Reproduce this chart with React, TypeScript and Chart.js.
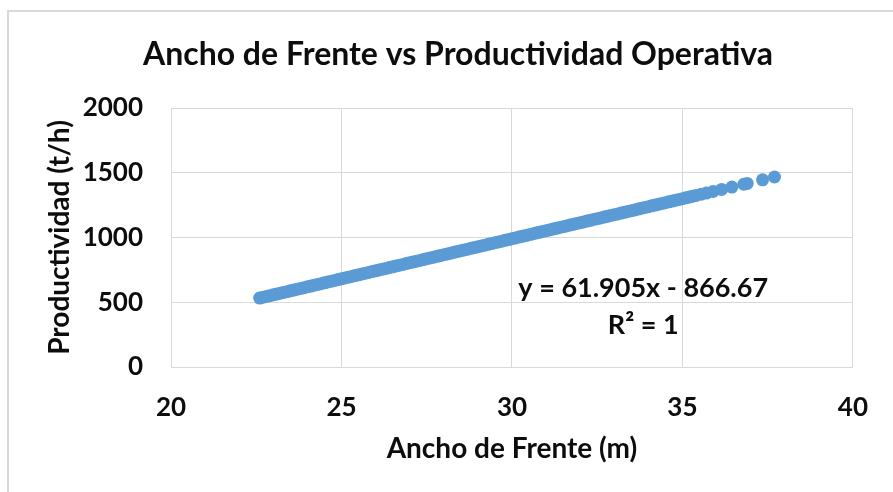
import React, { useEffect, useRef } from "react";
import { Chart, registerables } from "chart.js";

Chart.register(...registerables);

const chartTitle = "Ancho de Frente vs Productividad Operativa";
const xAxisTitle = "Ancho de Frente (m)";
const yAxisTitle = "Productividad (t/h)";
const equationText = "y = 61.905x - 866.67";
const r2Text = "R² = 1";

const xTicks = [20, 25, 30, 35, 40];
const yTicks = [0, 500, 1000, 1500, 2000];

const anchoFrente = [
  22.6, 22.7, 22.8, 22.9, 23.0, 23.1, 23.2, 23.3, 23.4, 23.5, 23.6, 23.7,
  23.8, 23.9, 24.0, 24.1, 24.2, 24.3, 24.4, 24.5, 24.6, 24.7, 24.8, 24.9,
  25.0, 25.1, 25.2, 25.3, 25.4, 25.5, 25.6, 25.7, 25.8, 25.9, 26.0, 26.1,
  26.2, 26.3, 26.4, 26.5, 26.6, 26.7, 26.8, 26.9, 27.0, 27.1, 27.2, 27.3,
  27.4, 27.5, 27.6, 27.7, 27.8, 27.9, 28.0, 28.1, 28.2, 28.3, 28.4, 28.5,
  28.6, 28.7, 28.8, 28.9, 29.0, 29.1, 29.2, 29.3, 29.4, 29.5, 29.6, 29.7,
  29.8, 29.9, 30.0, 30.1, 30.2, 30.3, 30.4, 30.5, 30.6, 30.7, 30.8, 30.9,
  31.0, 31.1, 31.2, 31.3, 31.4, 31.5, 31.6, 31.7, 31.8, 31.9, 32.0, 32.1,
  32.2, 32.3, 32.4, 32.5, 32.6, 32.7, 32.8, 32.9, 33.0, 33.1, 33.2, 33.3,
  33.4, 33.5, 33.6, 33.7, 33.8, 33.9, 34.0, 34.1, 34.2, 34.3, 34.4, 34.5,
  34.6, 34.7, 34.8, 34.9, 35.0, 35.1, 35.2, 35.3, 35.4, 35.55, 35.7, 35.9,
  36.15, 36.45, 36.8, 36.9, 37.35, 37.7,
];

const productividad = [
  532.4, 538.6, 544.8, 551.0, 557.1, 563.3, 569.5, 575.7, 581.9, 588.1,
  594.3, 600.5, 606.7, 612.9, 619.1, 625.2, 631.4, 637.6, 643.8, 650.0,
  656.2, 662.4, 668.6, 674.8, 681.0, 687.1, 693.3, 699.5, 705.7, 711.9,
  718.1, 724.3, 730.5, 736.7, 742.9, 749.0, 755.2, 761.4, 767.6, 773.8,
  780.0, 786.2, 792.4, 798.6, 804.8, 810.9, 817.1, 823.3, 829.5, 835.7,
  841.9, 848.1, 854.3, 860.5, 866.7, 872.8, 879.1, 885.2, 891.4, 897.6,
  903.8, 910.0, 916.2, 922.4, 928.6, 934.8, 941.0, 947.1, 953.3, 959.5,
  965.7, 971.9, 978.1, 984.3, 990.5, 996.7, 1002.9, 1009.0, 1015.2, 1021.4,
  1027.6, 1033.8, 1040.0, 1046.2, 1052.4, 1058.6, 1064.8, 1070.9, 1077.1,
  1083.3, 1089.5, 1095.7, 1101.9, 1108.1, 1114.3, 1120.5, 1126.7, 1132.8,
  1139.0, 1145.2, 1151.4, 1157.6, 1163.8, 1170.0, 1176.2, 1182.4, 1188.6,
  1194.7, 1201.0, 1207.1, 1213.3, 1219.5, 1225.7, 1231.9, 1238.1, 1244.3,
  1250.5, 1256.6, 1262.9, 1269.0, 1275.2, 1281.4, 1287.6, 1293.8, 1300.0,
  1306.2, 1312.4, 1318.6, 1324.8, 1334.1, 1343.3, 1355.7, 1371.2, 1389.7,
  1411.4, 1417.6, 1445.5, 1467.1,
];

// anchor of the trendline label, in data units
const labelX = 33.85;
const labelY1 = 608;
const labelY2 = 323;

const FONT = "Lato, 'Open Sans', sans-serif";
const GRID = "#d9d9d9";
const TEXT = "#0d0d0d";

export default function App() {
  const canvasRef = useRef<HTMLCanvasElement | null>(null);

  useEffect(() => {
    const canvas = canvasRef.current;
    if (!canvas) return;

    const overlay = {
      id: "overlay",
      afterDraw(chart: any) {
        const ctx = chart.ctx;
        const xs = chart.scales.x;
        const ys = chart.scales.y;
        ctx.save();
        ctx.fillStyle = TEXT;
        ctx.textAlign = "center";
        ctx.textBaseline = "middle";
        ctx.font = `bold 32px ${FONT}`;
        ctx.fillText(chartTitle, 458, 55);
        ctx.font = `bold 27px ${FONT}`;
        const cx = xs.getPixelForValue(labelX);
        ctx.fillText(equationText, cx, ys.getPixelForValue(labelY1));
        ctx.fillText(r2Text, cx, ys.getPixelForValue(labelY2));
        ctx.restore();
      },
    };

    const chart = new Chart(canvas, {
      type: "scatter",
      data: {
        datasets: [
          {
            data: anchoFrente.map((x, i) => ({ x, y: productividad[i] })),
            backgroundColor: "#5b9bd5",
            borderWidth: 0,
            pointRadius: 6.5,
            pointHoverRadius: 6.5,
          },
        ],
      },
      options: {
        responsive: false,
        animation: false,
        devicePixelRatio: 1,
        layout: { padding: { top: 108, right: 27, left: 0, bottom: 0 } },
        plugins: {
          legend: { display: false },
          title: { display: false },
          tooltip: { enabled: false },
        },
        scales: {
          x: {
            type: "linear",
            min: xTicks[0],
            max: xTicks[xTicks.length - 1],
            afterBuildTicks(scale: any) {
              scale.ticks = xTicks.map((v) => ({ value: v }));
            },
            afterFit(scale: any) {
              scale.height = 125;
            },
            grid: { color: GRID, drawTicks: false, lineWidth: 1 },
            border: { color: GRID },
            ticks: {
              padding: 25,
              color: TEXT,
              font: { family: FONT, size: 26, weight: "bold" },
              callback: (v: any) => String(v),
            },
            title: {
              display: true,
              text: xAxisTitle,
              color: TEXT,
              font: { family: FONT, size: 28, weight: "bold" },
              padding: { top: 0, bottom: 26 },
            },
          },
          y: {
            type: "linear",
            min: yTicks[0],
            max: yTicks[yTicks.length - 1],
            afterBuildTicks(scale: any) {
              scale.ticks = yTicks.map((v) => ({ value: v }));
            },
            afterFit(scale: any) {
              scale.width = 171;
            },
            grid: { color: GRID, drawTicks: false, lineWidth: 1 },
            border: { color: GRID },
            ticks: {
              padding: 28,
              color: TEXT,
              font: { family: FONT, size: 26, weight: "bold" },
              callback: (v: any) => String(v),
            },
            title: {
              display: true,
              text: yAxisTitle,
              color: TEXT,
              font: { family: FONT, size: 28, weight: "bold" },
              padding: { top: 43, bottom: 0 },
            },
          },
        },
      },
      plugins: [overlay],
    });

    return () => chart.destroy();
  }, []);

  return (
    <div
      style={{
        position: "fixed",
        left: 0,
        top: 0,
        width: 893,
        height: 492,
        background: "#fff",
        overflow: "hidden",
      }}
    >
      <div
        style={{
          position: "absolute",
          left: 7,
          top: 10,
          width: 920,
          height: 520,
          borderTop: `2px solid ${GRID}`,
          borderLeft: `2px solid ${GRID}`,
        }}
      />
      <canvas
        ref={canvasRef}
        width={893}
        height={492}
        style={{ position: "absolute", left: 0, top: 0, width: 893, height: 492 }}
      />
    </div>
  );
}
